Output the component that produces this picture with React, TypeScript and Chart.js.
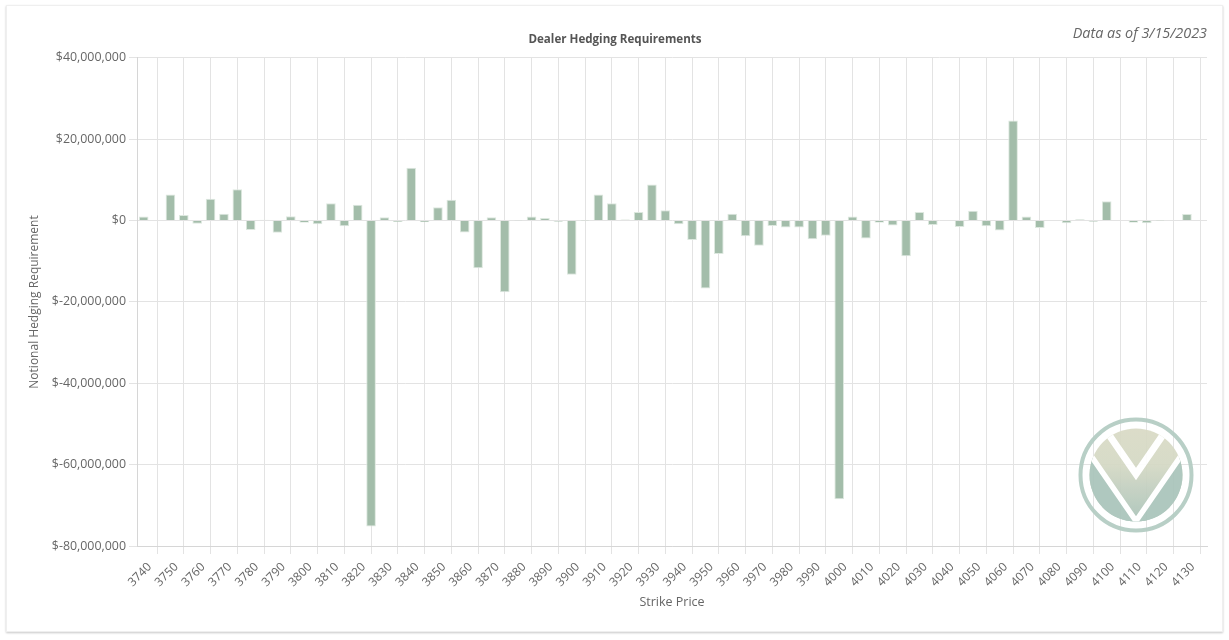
import React, { useEffect, useRef } from "react";
import { Chart, registerables } from "chart.js";

Chart.register(...registerables);

const strikeLabels = [
  "3740", "3745", "3750", "3755", "3760", "3765", "3770", "3775", "3780", "3785",
  "3790", "3795", "3800", "3805", "3810", "3815", "3820", "3825", "3830", "3835",
  "3840", "3845", "3850", "3855", "3860", "3865", "3870", "3875", "3880", "3885",
  "3890", "3895", "3900", "3905", "3910", "3915", "3920", "3925", "3930", "3935",
  "3940", "3945", "3950", "3955", "3960", "3965", "3970", "3975", "3980", "3985",
  "3990", "3995", "4000", "4005", "4010", "4015", "4020", "4025", "4030", "4035",
  "4040", "4045", "4050", "4055", "4060", "4065", "4070", "4075", "4080", "4085",
  "4090", "4095", "4100", "4105", "4110", "4115", "4120", "4125", "4130", "4135",
];

const hedgingValues = [
  1000000, 150000, 6400000, 1400000, -750000, 5400000, 1700000, 7700000, -2300000, 200000,
  -3000000, 1050000, -500000, -900000, 4250000, -1400000, 3900000, -75200000, 800000, -350000,
  13000000, -400000, 3300000, 5150000, -2900000, -11700000, 800000, -17600000, 100000, 1000000,
  650000, -300000, -13300000, 50000, 6450000, 4250000, 300000, 2100000, 8900000, 2550000,
  -900000, -4750000, -16700000, -8200000, 1700000, -3850000, -6200000, -1300000, -1700000, -1700000,
  -4600000, -3700000, -68500000, 1000000, -4400000, -550000, -1200000, -8750000, 2100000, -1050000,
  0, -1600000, 2450000, -1400000, -2450000, 24600000, 1000000, -1800000, -100000, -650000,
  350000, -300000, 4750000, 0, -550000, -650000, 50000, 0, 1650000, 0,
];

const yMin = -80000000;
const yMax = 40000000;
const yStep = 20000000;

const chartTitle = "Dealer Hedging Requirements";
const dateNote = "Data as of 3/15/2023";
const xTitle = "Strike Price";
const yTitle = "Notional Hedging Requirement";

const FONT = "'Open Sans', 'Noto Sans', sans-serif";

export default function App() {
  const ref = useRef<HTMLCanvasElement | null>(null);

  useEffect(() => {
    if (!ref.current) return;
    Chart.defaults.font.family = FONT;
    const gridColor = "#e3e3e3";
    const chart = new Chart(ref.current, {
      type: "bar",
      data: {
        labels: strikeLabels,
        datasets: [
          {
            data: hedgingValues,
            backgroundColor: "#a3bdaa",
            borderColor: "#dde8df",
            borderWidth: 1,
          },
        ],
      },
      options: {
        animation: false,
        responsive: true,
        maintainAspectRatio: false,
        layout: { padding: { top: 33, left: 23, right: 22, bottom: 26 } },
        plugins: {
          legend: { display: false },
          tooltip: { enabled: false },
          title: {
            display: true,
            text: chartTitle,
            color: "#555555",
            font: { family: FONT, size: 11.6, weight: "bold" },
            padding: { top: 0, bottom: 11 },
          },
        },
        scales: {
          x: {
            grid: {
              offset: false,
              color: (ctx: any) => (ctx.index % 2 === 1 ? gridColor : "rgba(0,0,0,0)"),
              tickLength: 8,
            },
            border: { color: "#d6d6d6" },
            ticks: {
              autoSkip: false,
              minRotation: 45,
              maxRotation: 45,
              labelOffset: 6,
              padding: 6,
              color: "#666666",
              font: { family: FONT, size: 12 },
              callback: (_v: any, i: number) => (i % 2 === 0 ? strikeLabels[i] : ""),
            },
            title: {
              display: true,
              text: xTitle,
              color: "#666666",
              font: { family: FONT, size: 12.5 },
              padding: { top: 4, bottom: 4 },
            },
            afterFit: (s: any) => {
              s.height = 68;
            },
          },
          y: {
            min: yMin,
            max: yMax,
            grid: { color: gridColor, tickLength: 8 },
            border: { color: "#d6d6d6" },
            ticks: {
              stepSize: yStep,
              color: "#666666",
              font: { family: FONT, size: 12.4 },
              callback: (v: any) => "$" + Number(v).toLocaleString("en-US"),
            },
            title: {
              display: true,
              text: yTitle,
              color: "#666666",
              font: { family: FONT, size: 12 },
              padding: { top: 4, bottom: 4 },
            },
            afterFit: (s: any) => {
              s.width = 114;
            },
          },
        },
      },
    });
    return () => chart.destroy();
  }, []);

  return (
    <div style={{ position: "absolute", left: 0, top: 0, width: 1229, height: 640, background: "#ffffff" }}>
      <div
        style={{
          position: "absolute",
          left: 6,
          top: 5,
          width: 1215,
          height: 625,
          border: "1px solid #efefef",
          boxShadow: "0 1px 2px rgba(0,0,0,0.22)",
          background: "#ffffff",
        }}
      />
      <div style={{ position: "absolute", left: 0, top: 0, width: 1229, height: 640 }}>
        <canvas ref={ref} />
      </div>
      <div
        style={{
          position: "absolute",
          right: 22,
          top: 23,
          fontFamily: FONT,
          fontStyle: "italic",
          fontSize: 14.4,
          color: "#666666",
          lineHeight: "20px",
          whiteSpace: "nowrap",
        }}
      >
        {dateNote}
      </div>
      <svg
        style={{ position: "absolute", left: 1135.5 - 58, top: 475 - 58, opacity: 0.92 }}
        width={116}
        height={116}
        viewBox="-58 -58 116 116"
      >
        <defs>
          <linearGradient id="logoGrad" x1="0" y1="0" x2="0" y2="1">
            <stop offset="0" stopColor="#d9dac5" />
            <stop offset="0.4" stopColor="#d4d8c4" />
            <stop offset="1" stopColor="#a6c1b7" />
          </linearGradient>
          <clipPath id="logoClip">
            <circle cx="0" cy="0" r="46.5" />
          </clipPath>
        </defs>
        <circle cx="0" cy="0" r="55.5" fill="none" stroke="#b2cbc2" strokeWidth="4" />
        <g clipPath="url(#logoClip)">
          <rect x="-50" y="-50" width="100" height="100" fill="url(#logoGrad)" />
          <polygon points="0,46 -80,-70 -80,80 0,80" fill="#a9c4ba" />
          <polygon points="0,46 80,-70 80,80 0,80" fill="#a9c4ba" />
          <polyline points="-80,-70 0,46 80,-70" fill="none" stroke="#ffffff" strokeWidth="5.5" strokeLinejoin="miter" />
          <polyline points="-60,-88 0,-1 60,-88" fill="none" stroke="#ffffff" strokeWidth="7" strokeLinejoin="miter" />
        </g>
      </svg>
    </div>
  );
}
